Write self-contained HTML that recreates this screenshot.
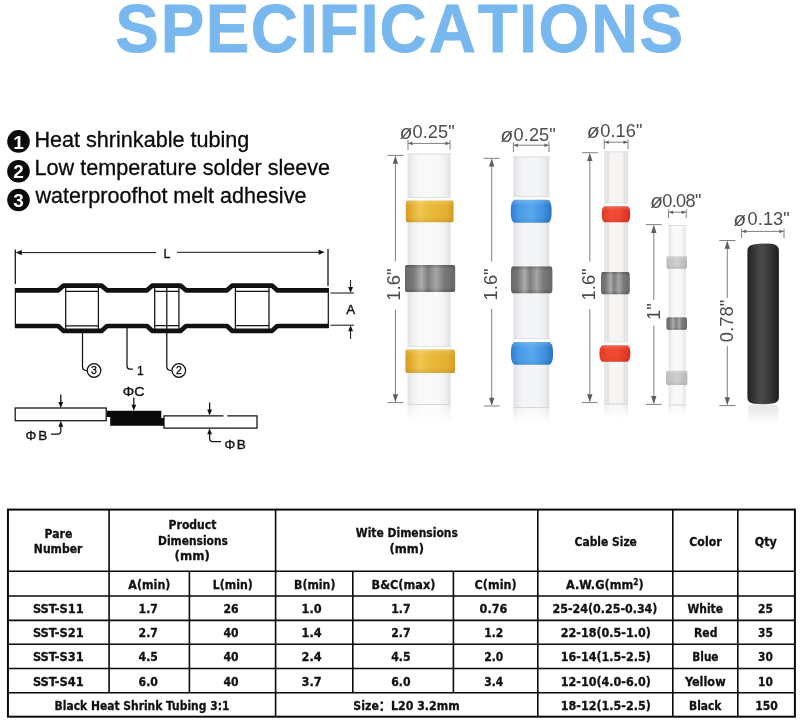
<!DOCTYPE html>
<html lang="en"><head><meta charset="utf-8"><title>Specifications</title>
<style>
html,body{margin:0;padding:0;background:#fff;}
svg{display:block}
.ar{font-family:"Liberation Sans",sans-serif}
.tb{font-family:"DejaVu Sans Condensed","DejaVu Sans","Liberation Sans","Noto Sans CJK SC",sans-serif;font-weight:bold;font-size:13px;fill:#111;stroke:#111;stroke-width:0.3px}
.dim{font-family:"Liberation Sans",sans-serif;fill:#4c4c4c}
.dl{stroke:#808080;stroke-width:1;fill:none}
.ln{stroke:#111;fill:none}
.lb{font-family:"Liberation Sans",sans-serif;fill:#111;stroke:#111;stroke-width:0.35px}
</style></head><body>
<svg width="800" height="723" viewBox="0 0 800 723">
<defs>
<linearGradient id="gBody" x1="0" x2="1" y1="0" y2="0">
<stop offset="0" stop-color="#e2e2e2"/><stop offset="0.05" stop-color="#e7e7e7"/><stop offset="0.13" stop-color="#f1f1f1"/><stop offset="0.3" stop-color="#f9f9f9"/><stop offset="0.7" stop-color="#f9f9f9"/><stop offset="0.87" stop-color="#f0f0f0"/><stop offset="0.95" stop-color="#e7e7e7"/><stop offset="1" stop-color="#e0e0e0"/>
</linearGradient>
<linearGradient id="gYel" x1="0" x2="1" y1="0" y2="0">
<stop offset="0" stop-color="#d99d25"/><stop offset="0.12" stop-color="#e4ae30"/><stop offset="0.28" stop-color="#efc555"/><stop offset="0.5" stop-color="#eabb3a"/><stop offset="0.85" stop-color="#e4b032"/><stop offset="1" stop-color="#d69a24"/>
</linearGradient>
<linearGradient id="gBlue" x1="0" x2="1" y1="0" y2="0">
<stop offset="0" stop-color="#2f7fd0"/><stop offset="0.2" stop-color="#4a9be6"/><stop offset="0.5" stop-color="#58a8ee"/><stop offset="0.8" stop-color="#3f90de"/><stop offset="1" stop-color="#2a74c4"/>
</linearGradient>
<linearGradient id="gRed" x1="0" x2="1" y1="0" y2="0">
<stop offset="0" stop-color="#e03a25"/><stop offset="0.3" stop-color="#f04a33"/><stop offset="0.6" stop-color="#ee4832"/><stop offset="1" stop-color="#d8301f"/>
</linearGradient>
<linearGradient id="gGrey" x1="0" x2="1" y1="0" y2="0">
<stop offset="0" stop-color="#6a6a6a"/><stop offset="0.16" stop-color="#787878"/><stop offset="0.33" stop-color="#adadad"/><stop offset="0.46" stop-color="#7e7e7e"/><stop offset="0.62" stop-color="#a6a6a6"/><stop offset="0.78" stop-color="#7a7a7a"/><stop offset="1" stop-color="#686868"/>
</linearGradient>
<linearGradient id="gShade" x1="0" x2="0" y1="0" y2="1">
<stop offset="0" stop-color="#000" stop-opacity="0.2"/><stop offset="0.14" stop-color="#000" stop-opacity="0"/><stop offset="0.84" stop-color="#000" stop-opacity="0"/><stop offset="1" stop-color="#000" stop-opacity="0.18"/>
</linearGradient>
<linearGradient id="gShade2" x1="0" x2="0" y1="0" y2="1">
<stop offset="0" stop-color="#fff" stop-opacity="0.18"/><stop offset="0.25" stop-color="#fff" stop-opacity="0"/><stop offset="0.75" stop-color="#000" stop-opacity="0"/><stop offset="1" stop-color="#000" stop-opacity="0.08"/>
</linearGradient>
<linearGradient id="gRefl" x1="0" x2="0" y1="0" y2="1">
<stop offset="0" stop-color="#000" stop-opacity="0.1"/><stop offset="1" stop-color="#000" stop-opacity="0"/>
</linearGradient>
<linearGradient id="gLGrey" x1="0" x2="1" y1="0" y2="0">
<stop offset="0" stop-color="#bdbdbd"/><stop offset="0.5" stop-color="#cfcfcf"/><stop offset="1" stop-color="#b8b8b8"/>
</linearGradient>
<linearGradient id="gBlack" x1="0" x2="1" y1="0" y2="0">
<stop offset="0" stop-color="#222"/><stop offset="0.12" stop-color="#2e2e2e"/><stop offset="0.4" stop-color="#4a4a4a"/><stop offset="0.55" stop-color="#444"/><stop offset="0.8" stop-color="#303030"/><stop offset="1" stop-color="#1e1e1e"/>
</linearGradient>
<linearGradient id="gFade" x1="0" x2="0" y1="0" y2="1">
<stop offset="0" stop-color="#fff" stop-opacity="0.3"/><stop offset="0.85" stop-color="#fff" stop-opacity="1"/><stop offset="1" stop-color="#fff" stop-opacity="1"/>
</linearGradient>
<linearGradient id="gFadeB" x1="0" x2="0" y1="0" y2="1">
<stop offset="0" stop-color="#fff" stop-opacity="0.82"/><stop offset="1" stop-color="#fff" stop-opacity="1"/>
</linearGradient>
</defs>
<rect width="800" height="723" fill="#fff"/>
<text class="ar" transform="scale(0.9464,1)" x="121.79 169.89 217.42 265.06 316.65 336.79 380.92 400.91 452.92 504.93 548.42 568.93 624.43 675.78" y="51.7" font-size="69" font-weight="bold" fill="#78b8ee" stroke="#78b8ee" stroke-width="0.8">SPECIFICATIONS</text>
<circle cx="18.5" cy="141.4" r="11.3" fill="#0a0a0a"/><text class="ar" x="18.6" y="148.5" font-size="19" font-weight="bold" fill="#fff" text-anchor="middle">1</text><text class="ar" x="34.4" y="147.2" font-size="21.4" fill="#0a0a0a" stroke="#0a0a0a" stroke-width="0.3" textLength="215" lengthAdjust="spacingAndGlyphs">Heat shrinkable tubing</text>
<circle cx="18.5" cy="171.2" r="11.3" fill="#0a0a0a"/><text class="ar" x="18.6" y="178.3" font-size="19" font-weight="bold" fill="#fff" text-anchor="middle">2</text><text class="ar" x="34.5" y="175.4" font-size="21.4" fill="#0a0a0a" stroke="#0a0a0a" stroke-width="0.3" textLength="295.65" lengthAdjust="spacingAndGlyphs">Low temperature solder sleeve</text>
<circle cx="18.5" cy="200" r="11.3" fill="#0a0a0a"/><text class="ar" x="18.6" y="207.1" font-size="19" font-weight="bold" fill="#fff" text-anchor="middle">3</text><text class="ar" x="35.5" y="203.2" font-size="21.4" fill="#0a0a0a" stroke="#0a0a0a" stroke-width="0.3" textLength="270.95" lengthAdjust="spacingAndGlyphs">waterproofhot melt adhesive</text>
<g class="ln"><path d="M15.3,249.5V284 M328,249V286" stroke-width="1.25"/><path d="M18,252.6H156 M177,252.3H322" stroke-width="1"/><path d="M15.8,252.6l6,-2.6v5.2z M324.6,252.2l-6,-2.6v5.2z" fill="#111" stroke="none"/><path d="M15,290.3H58.2L63.6,285.6H101.5L107,290.3H147L152.4,285.6H180.5L186,290.3H227L232.3,285.6H272L277.2,290.3H328.5" stroke-width="4.7" stroke-linejoin="round"/><path d="M15,326H58.2L63.6,330.9H101.5L107,326H147L152.4,330.9H180.5L186,326H227L232.3,330.9H272L277.2,326H328.5" stroke-width="4.7" stroke-linejoin="round"/><path d="M15.4,288V328 M328.3,288V328" stroke-width="1.2"/><path d="M65.7,287V329 M98.4,287V329 M65.7,291.4H98.4 M65.7,325.8H98.4" stroke-width="1.25"/><path d="M154.7,287V329 M178.9,287V329 M166.8,287V333 M154.7,291.4H178.9 M154.7,325.6H178.9" stroke-width="1.25"/><path d="M235.4,287V329 M269,287V329 M235.4,291.4H269 M235.4,325.6H269" stroke-width="1.25"/><path d="M330.5,293H354 M330.5,325.2H354 M350.6,280V288 M350.6,330V339" stroke-width="1"/><path d="M350.6,293l-2.4,-6h4.8z M350.6,325.2l-2.4,6h4.8z" fill="#111" stroke="none"/><path d="M82.5,333V366.5Q82.5,370.5 86.7,370.5" stroke-width="1.25"/><path d="M127,328V366Q127,369 130,369H133" stroke-width="1.25"/><path d="M166.8,333V366.5Q166.8,370.5 171.5,370.5" stroke-width="1.25"/><circle cx="94" cy="370.5" r="6.8" stroke-width="1.25"/><circle cx="178.8" cy="370.5" r="6.8" stroke-width="1.25"/></g>
<text class="lb" x="167" y="257.5" font-size="12.5" text-anchor="middle">L</text><text class="lb" x="350.6" y="314" font-size="13.4" text-anchor="middle">A</text><text class="lb" x="94" y="374.4" font-size="10.5" text-anchor="middle">3</text><text class="lb" x="178.8" y="374.4" font-size="10.5" text-anchor="middle">2</text><text class="lb" x="140.3" y="374.6" font-size="12" text-anchor="middle">1</text>
<g class="ln"><rect x="15.2" y="408" width="91" height="12.7" stroke-width="1.25" fill="#fff"/><path d="M107,410.7H161.3V418H164V425.8H110.2V417H107z" fill="#0a0a0a" stroke="none"/><path d="M223.5,415.8H164V428H257V415.8H227.3" stroke-width="1.25"/><path d="M133.8,397.5V406" stroke-width="1.25"/><path d="M133.8,410.7l-2.4,-6h4.8z" fill="#111" stroke="none"/><path d="M60.8,394.5V403" stroke-width="1.25"/><path d="M60.8,408l-2.4,-6h4.8z" fill="#111" stroke="none"/><path d="M60.8,426V431Q60.8,434 57.5,434H51" stroke-width="1.25"/><path d="M60.8,420.8l-2.4,6h4.8z" fill="#111" stroke="none"/><path d="M209.6,402.5V410.5" stroke-width="1.25"/><path d="M209.6,415.6l-2.4,-6h4.8z" fill="#111" stroke="none"/><path d="M209.6,433V438.5Q209.6,441.5 213,441.5H221" stroke-width="1.25"/><path d="M209.6,428.2l-2.4,6h4.8z" fill="#111" stroke="none"/></g>
<text class="lb" x="122.8" y="396" font-size="13.5" textLength="21.8" lengthAdjust="spacingAndGlyphs">ΦC</text><text class="lb" x="25.6" y="440" font-size="13.5" textLength="21.6" lengthAdjust="spacing">ΦB</text><text class="lb" x="224.4" y="448.6" font-size="13.5" textLength="21.4" lengthAdjust="spacing">ΦB</text>
<rect x="407.6" y="153.6" width="43.0" height="269.9" fill="url(#gBody)"/><path d="M407.6,154.1H450.6" stroke="#dcdcdc" stroke-width="1" fill="none"/><path d="M407.6,404.5H450.6" stroke="#d8d8d8" stroke-width="1.2" fill="none"/><rect x="407.6" y="197.0" width="43.0" height="0.9" fill="#d9d9d9"/><rect x="407.6" y="197.8" width="43.0" height="3.4" fill="#fdfdfd"/><rect x="405.8" y="200.6" width="47.8" height="21.6" rx="1.5" ry="3.3" fill="url(#gYel)"/><rect x="405.8" y="200.6" width="47.8" height="21.6" rx="1.5" ry="3.3" fill="url(#gShade2)"/><rect x="405" y="265" width="50.2" height="27" rx="1.5" ry="3.3" fill="url(#gGrey)"/><rect x="405" y="265" width="50.2" height="27" rx="1.5" ry="3.3" fill="url(#gShade)"/><rect x="407.6" y="346.0" width="43.0" height="0.9" fill="#d9d9d9"/><rect x="407.6" y="346.8" width="43.0" height="3.4" fill="#fdfdfd"/><rect x="405.4" y="349.6" width="49.6" height="23.3" rx="1.5" ry="3.3" fill="url(#gYel)"/><rect x="405.4" y="349.6" width="49.6" height="23.3" rx="1.5" ry="3.3" fill="url(#gShade2)"/><rect x="406.6" y="405.3" width="45.0" height="20" fill="url(#gFade)"/>
<text class="dim" x="399.8" y="138.4" font-size="18.2"><tspan font-style="italic" font-size="20.5" dy="0.9">ø</tspan><tspan x="412.5" dy="-0.9" textLength="42.1" lengthAdjust="spacing">0.25"</tspan></text><path class="dl" d="M408,140V150 M450,140V150 M408,143.4H450"/><path d="M408.5,143.4l4,-1.8v3.6z M449.5,143.4l-4,-1.8v3.6z" fill="#5e5e5e"/><path class="dl" d="M387.4,155.4H403.4 M387.4,402.6H403.4 M395.4,156.4V261.2 M395.4,309.4V401.6"/><path d="M395.4,155.9l-2.7,7.8h5.4z M395.4,402.1l-2.7,-7.8h5.4z" fill="#5e5e5e"/><text class="dim" transform="translate(400.3,284.6) rotate(-90)" font-size="18.4" text-anchor="middle">1.6"</text>
<rect x="513.4" y="156.5" width="36.0" height="268.0" fill="url(#gBody)"/><rect x="513.4" y="156.5" width="36.0" height="268.0" fill="#b8d0f0" opacity="0.08"/><path d="M513.4,157.0H549.4" stroke="#dcdcdc" stroke-width="1" fill="none"/><path d="M513.4,407.5H549.4" stroke="#d8d8d8" stroke-width="1.2" fill="none"/><rect x="513.4" y="196.2" width="36.0" height="0.9" fill="#d9d9d9"/><rect x="513.4" y="197.0" width="36.0" height="3.4" fill="#fdfdfd"/><rect x="510.8" y="199.8" width="40.8" height="23.0" rx="4" ry="8.8" fill="url(#gBlue)"/><rect x="510.8" y="199.8" width="40.8" height="23.0" rx="4" ry="8.8" fill="url(#gShade2)"/><rect x="511" y="266.6" width="41.4" height="26.6" rx="2" ry="4.4" fill="url(#gGrey)"/><rect x="511" y="266.6" width="41.4" height="26.6" rx="2" ry="4.4" fill="url(#gShade)"/><rect x="513.4" y="338.4" width="36.0" height="0.9" fill="#d9d9d9"/><rect x="513.4" y="339.2" width="36.0" height="3.4" fill="#fdfdfd"/><rect x="511" y="342" width="42" height="22.7" rx="4" ry="8.8" fill="url(#gBlue)"/><rect x="511" y="342" width="42" height="22.7" rx="4" ry="8.8" fill="url(#gShade2)"/><rect x="512.4" y="408.3" width="38.0" height="18" fill="url(#gFade)"/>
<text class="dim" x="500.4" y="141" font-size="18.2"><tspan font-style="italic" font-size="20.5" dy="0.9">ø</tspan><tspan x="513.6" dy="-0.9" textLength="42.1" lengthAdjust="spacing">0.25"</tspan></text><path class="dl" d="M513.4,142V152 M549,142V152 M513.4,145.2H549"/><path d="M513.9,145.2l4,-1.8v3.6z M548.5,145.2l-4,-1.8v3.6z" fill="#5e5e5e"/><path class="dl" d="M483.7,158.3H499.7 M483.7,406H499.7 M491.7,159.3V261.6 M491.7,309V405"/><path d="M491.7,158.8l-2.7,7.8h5.4z M491.7,405.5l-2.7,-7.8h5.4z" fill="#5e5e5e"/><text class="dim" transform="translate(496.5,284.4) rotate(-90)" font-size="18.4" text-anchor="middle">1.6"</text>
<rect x="604.4" y="151.4" width="23.6" height="268.6" fill="url(#gBody)"/><rect x="604.4" y="151.4" width="23.6" height="268.6" fill="#e8b8b8" opacity="0.07"/><path d="M608.0,152.4V404 M624.4,152.4V404" stroke="#e4dcdc" stroke-width="1.4" fill="none"/><path d="M604.4,151.9H628" stroke="#dcdcdc" stroke-width="1" fill="none"/><path d="M604.4,404H628" stroke="#d8d8d8" stroke-width="1.2" fill="none"/><rect x="604.4" y="202.7" width="23.6" height="0.9" fill="#d9d9d9"/><rect x="604.4" y="203.5" width="23.6" height="3.4" fill="#fdfdfd"/><rect x="601.8" y="206.3" width="28.4" height="15.9" rx="3" ry="6.6" fill="url(#gRed)"/><rect x="601.8" y="206.3" width="28.4" height="15.9" rx="3" ry="6.6" fill="url(#gShade2)"/><rect x="601" y="272.1" width="28.8" height="22.2" rx="2" ry="4.4" fill="url(#gGrey)"/><rect x="601" y="272.1" width="28.8" height="22.2" rx="2" ry="4.4" fill="url(#gShade)"/><rect x="604.4" y="341.6" width="23.6" height="0.9" fill="#d9d9d9"/><rect x="604.4" y="342.4" width="23.6" height="3.4" fill="#fdfdfd"/><rect x="599.4" y="345.2" width="31.0" height="16.6" rx="3.5" ry="7.7" fill="url(#gRed)"/><rect x="599.4" y="345.2" width="31.0" height="16.6" rx="3.5" ry="7.7" fill="url(#gShade2)"/><rect x="603.4" y="404.8" width="25.6" height="17" fill="url(#gFade)"/>
<text class="dim" x="587.1" y="137.3" font-size="18.2"><tspan font-style="italic" font-size="20.5" dy="0.9">ø</tspan><tspan x="600.3" dy="-0.9" textLength="42.1" lengthAdjust="spacing">0.16"</tspan></text><path class="dl" d="M604.2,139.4V149 M628,139.4V149 M604.2,142.2H628"/><path d="M604.7,142.2l4,-1.8v3.6z M627.5,142.2l-4,-1.8v3.6z" fill="#5e5e5e"/><path class="dl" d="M581.8,152.7H597.8 M581.8,402.6H597.8 M589.8,153.7V261.6 M589.8,309V401.6"/><path d="M589.8,153.2l-2.7,7.8h5.4z M589.8,402.1l-2.7,-7.8h5.4z" fill="#5e5e5e"/><text class="dim" transform="translate(594.5,284.4) rotate(-90)" font-size="18.4" text-anchor="middle">1.6"</text>
<rect x="668.6" y="225" width="17.0" height="194" fill="url(#gBody)"/><path d="M668.6,225.5H685.6" stroke="#dcdcdc" stroke-width="1" fill="none"/><path d="M668.6,405H685.6" stroke="#d8d8d8" stroke-width="1.2" fill="none"/><rect x="666.4" y="256.2" width="20.6" height="12.6" rx="1.5" ry="3.3" fill="url(#gLGrey)"/><rect x="666.4" y="256.2" width="20.6" height="12.6" rx="1.5" ry="3.3" fill="url(#gShade2)"/><rect x="666.4" y="317.5" width="20.6" height="12.2" rx="1.5" ry="3.3" fill="url(#gGrey)"/><rect x="666.4" y="317.5" width="20.6" height="12.2" rx="1.5" ry="3.3" fill="url(#gShade)"/><rect x="666" y="370.7" width="21.4" height="14.3" rx="1.5" ry="3.3" fill="url(#gLGrey)"/><rect x="666" y="370.7" width="21.4" height="14.3" rx="1.5" ry="3.3" fill="url(#gShade2)"/><rect x="667.6" y="405.8" width="19.0" height="15" fill="url(#gFade)"/>
<text class="dim" x="650.2" y="207" font-size="18.2"><tspan font-style="italic" font-size="20.5" dy="0.9">ø</tspan><tspan x="662.2" dy="-0.9" textLength="39.2" lengthAdjust="spacing">0.08"</tspan></text><path class="dl" d="M668.6,209.4V218 M686.2,209.4V218 M668.6,212.2H686.2"/><path d="M669.1,212.2l4,-1.8v3.6z M685.7,212.2l-4,-1.8v3.6z" fill="#5e5e5e"/><path class="dl" d="M645.8,224.6H661.8 M645.8,404.4H661.8 M653.8,225.6V300 M653.8,325.7V403.4"/><path d="M653.8,225.1l-2.7,7.8h5.4z M653.8,403.9l-2.7,-7.8h5.4z" fill="#5e5e5e"/><text class="dim" transform="translate(659.9,311.6) rotate(-90)" font-size="18.4" text-anchor="middle">1"</text>
<rect x="748" y="404.6" width="30.4" height="19" rx="5" ry="3" fill="url(#gRefl)"/><path d="M747.4,250.5Q747.5,245.6 753.5,244.6Q763,243.2 771.5,243.7Q778.9,244.6 778.9,250.5V397.5Q778.9,402.6 772.5,403.6Q763,404.6 754,403.7Q747.4,402.8 747.4,397.5z" fill="url(#gBlack)"/><text class="dim" x="733.6" y="225.2" font-size="18.2"><tspan font-style="italic" font-size="20.5" dy="0.9">ø</tspan><tspan x="747.6" dy="-0.9" textLength="42.1" lengthAdjust="spacing">0.13"</tspan></text><path class="dl" d="M741.6,228.6V238.2 M784,228.6V238.2 M741.6,231.4H784"/><path d="M742.1,231.4l4,-1.8v3.6z M783.5,231.4l-4,-1.8v3.6z" fill="#5e5e5e"/><path class="dl" d="M719.3,240.5H735.3 M719.3,405.6H735.3 M727.3,241.5V297.9 M727.3,346V404.6"/><path d="M727.3,241.0l-2.7,7.8h5.4z M727.3,405.1l-2.7,-7.8h5.4z" fill="#5e5e5e"/><text class="dim" transform="translate(732.8,321) rotate(-90)" font-size="18.4" text-anchor="middle">0.78"</text>
<g stroke="#0a0a0a" fill="none"><rect x="7.95" y="509.6" width="786.9499999999999" height="207.10000000000002" stroke-width="2"/><path d="M7.95,571.3H794.9 M7.95,596H794.9 M7.95,620.4H794.9 M7.95,644.2H794.9 M7.95,668.5H794.9 M7.95,692.8H794.9 " stroke-width="1.6"/><path d="M109.1,509.6V692.8 M189.4,571.3V692.8 M275.6,509.6V716.7 M352.8,571.3V692.8 M453.4,571.3V692.8 M537.8,509.6V716.7 M672.8,509.6V716.7 M737.8,509.6V716.7 " stroke-width="1.6"/></g>
<text class="tb" x="58.5" y="537.5" text-anchor="middle" textLength="27.8" lengthAdjust="spacingAndGlyphs">Pare</text><text class="tb" x="58.1" y="553" text-anchor="middle" textLength="48.6" lengthAdjust="spacingAndGlyphs">Number</text><text class="tb" x="192.5" y="528.7" text-anchor="middle" textLength="47.8" lengthAdjust="spacingAndGlyphs">Product</text><text class="tb" x="193.0" y="544.5" text-anchor="middle" textLength="69.8" lengthAdjust="spacingAndGlyphs">Dimensions</text><text class="tb" x="192.25" y="560" text-anchor="middle" textLength="35.3" lengthAdjust="spacingAndGlyphs">(mm)</text><text class="tb" x="406.85" y="537" text-anchor="middle" textLength="102.1" lengthAdjust="spacingAndGlyphs">Wite Dimensions</text><text class="tb" x="406.85" y="553" text-anchor="middle" textLength="34.5" lengthAdjust="spacingAndGlyphs">(mm)</text><text class="tb" x="605.75" y="545.5" text-anchor="middle" textLength="62.3" lengthAdjust="spacingAndGlyphs">Cable Size</text><text class="tb" x="705.45" y="545.5" text-anchor="middle" textLength="32.3" lengthAdjust="spacingAndGlyphs">Color</text><text class="tb" x="765.85" y="545.5" text-anchor="middle" textLength="22.1" lengthAdjust="spacingAndGlyphs">Qty</text><text class="tb" x="149.35" y="588.8" text-anchor="middle" textLength="42.1" lengthAdjust="spacingAndGlyphs">A(min)</text><text class="tb" x="232.85" y="588.8" text-anchor="middle" textLength="40.1" lengthAdjust="spacingAndGlyphs">L(min)</text><text class="tb" x="314.75" y="588.8" text-anchor="middle" textLength="41.3" lengthAdjust="spacingAndGlyphs">B(min)</text><text class="tb" x="403.5" y="588.8" text-anchor="middle" textLength="63.8" lengthAdjust="spacingAndGlyphs">B&amp;C(max)</text><text class="tb" x="495.6" y="588.8" text-anchor="middle" textLength="42.0" lengthAdjust="spacingAndGlyphs">C(min)</text><text class="tb" x="604.85" y="589.1999999999999" text-anchor="middle" textLength="77.6" lengthAdjust="spacingAndGlyphs">A.W.G(mm<tspan font-size="8.5" dy="-4.6">2</tspan><tspan dy="4.6">)</tspan></text><text class="tb" x="58.35" y="612.6" text-anchor="middle" textLength="50.9" lengthAdjust="spacingAndGlyphs">SST-S11</text><text class="tb" x="58.35" y="637" text-anchor="middle" textLength="50.9" lengthAdjust="spacingAndGlyphs">SST-S21</text><text class="tb" x="58.35" y="661.2" text-anchor="middle" textLength="50.9" lengthAdjust="spacingAndGlyphs">SST-S31</text><text class="tb" x="58.35" y="685.6" text-anchor="middle" textLength="50.9" lengthAdjust="spacingAndGlyphs">SST-S41</text><text class="tb" x="148.25" y="612.6" text-anchor="middle" textLength="19.3" lengthAdjust="spacingAndGlyphs">1.7</text><text class="tb" x="148.25" y="637" text-anchor="middle" textLength="19.3" lengthAdjust="spacingAndGlyphs">2.7</text><text class="tb" x="148.25" y="661.2" text-anchor="middle" textLength="19.3" lengthAdjust="spacingAndGlyphs">4.5</text><text class="tb" x="148.25" y="685.6" text-anchor="middle" textLength="19.3" lengthAdjust="spacingAndGlyphs">6.0</text><text class="tb" x="230.95" y="612.6" text-anchor="middle" textLength="15.1" lengthAdjust="spacingAndGlyphs">26</text><text class="tb" x="230.95" y="637" text-anchor="middle" textLength="15.1" lengthAdjust="spacingAndGlyphs">40</text><text class="tb" x="230.95" y="661.2" text-anchor="middle" textLength="15.1" lengthAdjust="spacingAndGlyphs">40</text><text class="tb" x="230.95" y="685.6" text-anchor="middle" textLength="15.1" lengthAdjust="spacingAndGlyphs">40</text><text class="tb" x="311.65" y="612.6" text-anchor="middle" textLength="20.1" lengthAdjust="spacingAndGlyphs">1.0</text><text class="tb" x="311.65" y="637" text-anchor="middle" textLength="20.1" lengthAdjust="spacingAndGlyphs">1.4</text><text class="tb" x="311.65" y="661.2" text-anchor="middle" textLength="20.1" lengthAdjust="spacingAndGlyphs">2.4</text><text class="tb" x="311.65" y="685.6" text-anchor="middle" textLength="20.1" lengthAdjust="spacingAndGlyphs">3.7</text><text class="tb" x="400.85" y="612.6" text-anchor="middle" textLength="19.3" lengthAdjust="spacingAndGlyphs">1.7</text><text class="tb" x="400.85" y="637" text-anchor="middle" textLength="19.3" lengthAdjust="spacingAndGlyphs">2.7</text><text class="tb" x="400.85" y="661.2" text-anchor="middle" textLength="19.3" lengthAdjust="spacingAndGlyphs">4.5</text><text class="tb" x="400.85" y="685.6" text-anchor="middle" textLength="19.3" lengthAdjust="spacingAndGlyphs">6.0</text><text class="tb" x="493.5" y="612.6" text-anchor="middle" textLength="27.8" lengthAdjust="spacingAndGlyphs">0.76</text><text class="tb" x="493.8" y="637" text-anchor="middle" textLength="19.0" lengthAdjust="spacingAndGlyphs">1.2</text><text class="tb" x="493.8" y="661.2" text-anchor="middle" textLength="19.0" lengthAdjust="spacingAndGlyphs">2.0</text><text class="tb" x="493.8" y="685.6" text-anchor="middle" textLength="19.0" lengthAdjust="spacingAndGlyphs">3.4</text><text class="tb" x="605.0" y="612.6" text-anchor="middle" textLength="104.8" lengthAdjust="spacingAndGlyphs">25-24(0.25-0.34)</text><text class="tb" x="605.8" y="637" text-anchor="middle" textLength="90.2" lengthAdjust="spacingAndGlyphs">22-18(0.5-1.0)</text><text class="tb" x="605.8" y="661.2" text-anchor="middle" textLength="90.2" lengthAdjust="spacingAndGlyphs">16-14(1.5-2.5)</text><text class="tb" x="605.8" y="685.6" text-anchor="middle" textLength="90.2" lengthAdjust="spacingAndGlyphs">12-10(4.0-6.0)</text><text class="tb" x="605.8" y="709.5" text-anchor="middle" textLength="90.2" lengthAdjust="spacingAndGlyphs">18-12(1.5-2.5)</text><text class="tb" x="705.25" y="612.6" text-anchor="middle" textLength="35.5" lengthAdjust="spacingAndGlyphs">White</text><text class="tb" x="705.75" y="637" text-anchor="middle" textLength="23.5" lengthAdjust="spacingAndGlyphs">Red</text><text class="tb" x="705.4" y="661.2" text-anchor="middle" textLength="26.2" lengthAdjust="spacingAndGlyphs">Blue</text><text class="tb" x="705.25" y="685.6" text-anchor="middle" textLength="40.7" lengthAdjust="spacingAndGlyphs">Yellow</text><text class="tb" x="705.25" y="709.5" text-anchor="middle" textLength="32.3" lengthAdjust="spacingAndGlyphs">Black</text><text class="tb" x="765.4" y="612.6" text-anchor="middle" textLength="14.8" lengthAdjust="spacingAndGlyphs">25</text><text class="tb" x="765.4" y="637" text-anchor="middle" textLength="14.8" lengthAdjust="spacingAndGlyphs">35</text><text class="tb" x="765.4" y="661.2" text-anchor="middle" textLength="14.8" lengthAdjust="spacingAndGlyphs">30</text><text class="tb" x="765.4" y="685.6" text-anchor="middle" textLength="14.8" lengthAdjust="spacingAndGlyphs">10</text><text class="tb" x="766.6" y="709.5" text-anchor="middle" textLength="22.6" lengthAdjust="spacingAndGlyphs">150</text><text class="tb" x="142.0" y="709.5" text-anchor="middle" textLength="174.8" lengthAdjust="spacingAndGlyphs">Black Heat Shrink Tubing 3:1</text><text class="tb" x="406.45" y="709.5" text-anchor="middle" textLength="106.3" lengthAdjust="spacingAndGlyphs">Size：L20 3.2mm</text>
</svg>
</body></html>
